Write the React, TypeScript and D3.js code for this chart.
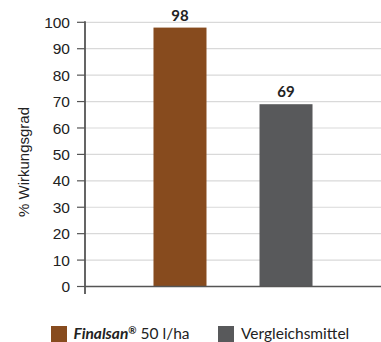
import React from "react";
import * as d3 from "d3";

const categories = ["Finalsan", "Vergleichsmittel"];
const values = [98, 69];
const colors = ["#874B1E", "#58595B"];
const yTicks = [0, 10, 20, 30, 40, 50, 60, 70, 80, 90, 100];

export default function App() {
  const W = 381, H = 342;
  const x0 = 85, x1 = 381, yTop = 22.3, yBot = 286.5;
  const x = d3.scaleBand<string>().domain(categories).range([x0, x1]).paddingInner(0.5).paddingOuter(0.646);
  const y = d3.scaleLinear().domain([0, 100]).range([yBot, yTop]);
  const tickFont = "'Liberation Sans', Arial, sans-serif";
  const lato = "Lato, sans-serif";
  return (
    <svg width={W} height={H} style={{ position: "absolute", left: 0, top: 0, background: "#fff" }}>
      {yTicks.filter(t => t > 0).map(t => (
        <line key={"g" + t} x1={x0} x2={x1} y1={y(t)} y2={y(t)} stroke="#d9d9d9" strokeWidth={1.2} />
      ))}
      {categories.map((c, i) => (
        <g key={c}>
          <rect x={x(c)} y={y(values[i])} width={x.bandwidth()} height={yBot - y(values[i])} fill={colors[i]} />
          <text x={(x(c) as number) + x.bandwidth() / 2} y={y(values[i]) - 7} textAnchor="middle"
            fontFamily={lato} fontWeight={700} fontSize={15} fill="#222">{values[i]}</text>
        </g>
      ))}
      <line x1={x0} x2={x1} y1={yBot} y2={yBot} stroke="#555" strokeWidth={1.5} />
      <line x1={x0} x2={x0} y1={yTop - 1} y2={294} stroke="#555" strokeWidth={1.8} />
      {yTicks.map(t => (
        <g key={"t" + t}>
          <line x1={77} x2={x0} y1={y(t)} y2={y(t)} stroke="#555" strokeWidth={1.2} />
          <text x={70} y={y(t)} dy="0.36em" textAnchor="end" fontFamily={tickFont} fontSize={15.5} fill="#222">{t}</text>
        </g>
      ))}
      <text transform="translate(29,162) rotate(-90)" textAnchor="middle" fontFamily={tickFont} fontSize={15} fill="#222">% Wirkungsgrad</text>
      <rect x={51} y={326} width={16} height={16} fill={colors[0]} />
      <text x={73.5} y={339} fontFamily={lato} fontSize={15.5} fill="#222">
        <tspan fontWeight={700} fontStyle="italic">Finalsan</tspan>
        <tspan fontWeight={700} fontSize={10} dy={-5}>®</tspan>
        <tspan dy={5}> 50 l/ha</tspan>
      </text>
      <rect x={218} y={326} width={16} height={16} fill={colors[1]} />
      <text x={241} y={339} fontFamily={lato} fontSize={15.5} fill="#222">Vergleichsmittel</text>
    </svg>
  );
}
